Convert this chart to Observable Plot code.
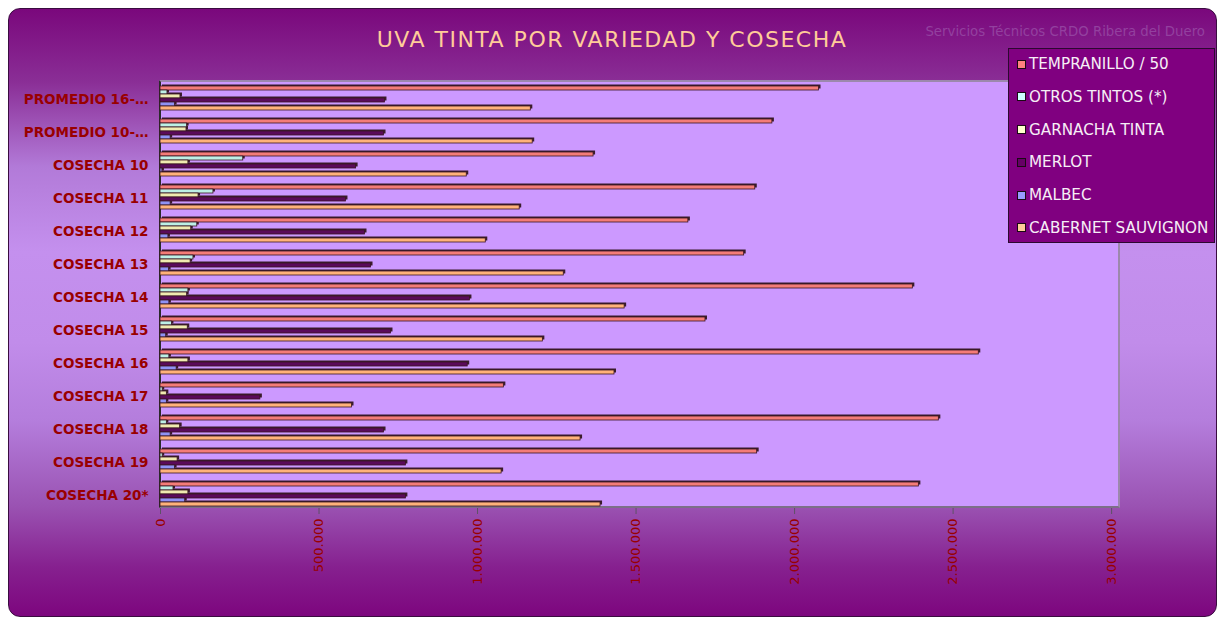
<!DOCTYPE html>
<html>
<head>
<meta charset="utf-8">
<script src="https://cdn.jsdelivr.net/npm/d3@7"></script>
<script src="https://cdn.jsdelivr.net/npm/@observablehq/plot@0.6"></script>
<style>
  html, body { margin: 0; padding: 0; background: #ffffff; width: 1221px; height: 619px; overflow: hidden; }
  #card {
    position: absolute; left: 8px; top: 8px; width: 1209px; height: 609px;
    box-sizing: border-box; border: 1px solid #3a0c40; border-radius: 12px;
    background: linear-gradient(to bottom, #7a087c 0%, #8a2e96 12%, #b27ad8 26%, #c490ee 40%, #c18cea 55%, #b47ddc 68%, #9a52b2 82%, #86208f 92%, #7d067e 100%);
    z-index: 0;
  }
  #plotbg {
    position: absolute; left: 159px; top: 80px; width: 961px; height: 428px;
    background: #cc99ff; box-sizing: border-box;
    border-top: 2px solid #9c88ad; border-right: 2px solid #9c88ad;
    border-left: 2px solid #2a2a2a; border-bottom: 2px solid #7d6f88;
    z-index: 1;
  }
  #chart { position: absolute; left: 0; top: 0; z-index: 2; }
  #title {
    position: absolute; left: 0; top: 27px; width: 1224px; text-align: center;
    font-family: "DejaVu Sans", sans-serif; font-size: 22px;
    color: #ffcc99; z-index: 3; letter-spacing: 1.5px;
  }
  #subtitle {
    position: absolute; right: 16px; top: 24px;
    font-family: "DejaVu Sans", sans-serif; font-size: 13.3px;
    color: #93409f; z-index: 3;
  }
  #legend {
    position: absolute; left: 1008px; top: 48px; width: 207px; height: 195px;
    box-sizing: border-box; background: #800080;
    border: 1px solid #2c0830; z-index: 3; padding-top: 0;
    font-family: "DejaVu Sans", sans-serif; font-size: 15.2px; color: #f6eef6;
  }
  .item { height: 32.8px; display: flex; align-items: center; padding-left: 8px; }
  .item:first-child { margin-top: -1.4px; }
  .sw { width: 7px; height: 7px; border: 1px solid #1a0a14; margin-right: 3px; flex: none; }
</style>
</head>
<body>
<div id="card"></div>
<div id="plotbg"></div>
<div id="title">UVA TINTA POR VARIEDAD Y COSECHA</div>
<div id="subtitle">Servicios Técnicos CRDO Ribera del Duero</div>
<div id="legend"></div>
<div id="chart"></div>
<script>
// ---- data ----
const categories = [
  "PROMEDIO 16-…", "PROMEDIO 10-…", "COSECHA 10", "COSECHA 11", "COSECHA 12",
  "COSECHA 13", "COSECHA 14", "COSECHA 15", "COSECHA 16", "COSECHA 17",
  "COSECHA 18", "COSECHA 19", "COSECHA 20*"
];
const series = ["TEMPRANILLO / 50", "OTROS TINTOS (*)", "GARNACHA TINTA", "MERLOT", "MALBEC", "CABERNET SAUVIGNON"];
const seriesColors = ["#f47c78", "#bdf0e6", "#f0eab0", "#5a0a5a", "#8f92f5", "#ffb27a"];
const legendColors = ["#ff8080", "#ccffff", "#ffffcc", "#660066", "#9999ff", "#ffcc99"];

const tempranillo50 = [2077000, 1930000, 1366000, 1876000, 1665000, 1841000, 2373000, 1719000, 2581000, 1083000, 2455000, 1882000, 2392000];
const otrosTintos   = [22000, 84000, 261000, 167000, 116000, 104000, 88000, 36000, 28000, 7000, 20000, 7000, 41000];
const garnachaTinta = [63000, 82000, 88000, 120000, 97000, 95000, 84000, 86000, 88000, 20000, 62000, 54000, 88000];
const merlot        = [708000, 705000, 617000, 585000, 645000, 664000, 976000, 727000, 969000, 315000, 705000, 774000, 774000];
const malbec        = [46000, 32000, 6000, 32000, 25000, 27000, 28000, 18000, 51000, 20000, 32000, 46000, 78000];
const cabernetSauvignon = [1168000, 1174000, 966000, 1133000, 1026000, 1272000, 1464000, 1206000, 1432000, 604000, 1325000, 1076000, 1388000];

const xTicks = [0, 500000, 1000000, 1500000, 2000000, 2500000, 3000000];

// ---- build table ----
const seriesValues = [tempranillo50, otrosTintos, garnachaTinta, merlot, malbec, cabernetSauvignon];
const rows = [];
categories.forEach((c, i) => series.forEach((s, j) => rows.push({category: c, series: s, value: seriesValues[j][i]})));

const fmt = d3.formatLocale({decimal: ",", thousands: ".", grouping: [3], currency: ["", " €"]}).format(",.0f");

const chart = Plot.plot({
  width: 1221,
  height: 619,
  marginLeft: 160,
  marginRight: 101,
  marginTop: 78,
  marginBottom: 105,
  style: {background: "transparent", fontFamily: "DejaVu Sans", overflow: "visible"},
  x: {domain: [0, 3028000], label: null},
  y: {domain: series, axis: null, padding: 0},
  fy: {domain: categories, paddingInner: 0.16, paddingOuter: 0.08, label: null},
  color: {domain: series, range: seriesColors},
  marks: [
    Plot.barX(rows, {x: "value", y: "series", fy: "category", fill: "#3a1c2c", dx: 2, dy: -1.5}),
    Plot.barX(rows, {x: "value", y: "series", fy: "category", fill: "series", stroke: "#3a1422", strokeWidth: 0.8}),
    Plot.axisX({ticks: xTicks, tickFormat: fmt, tickRotate: -90, tickSize: 6, tickPadding: 4, stroke: "#5e5266", fill: "#990000", fontSize: 13, label: null}),
    Plot.axisFy({anchor: "left", tickSize: 0, tickPadding: 12, dy: 1.5, fontSize: 13.5, fontWeight: "bold", fill: "#990000", label: null})
  ]
});
document.getElementById("chart").appendChild(chart);

// ---- legend ----
const legend = d3.select("#legend");
series.forEach((s, j) => {
  const it = legend.append("div").attr("class", "item");
  it.append("div").attr("class", "sw").style("background", legendColors[j]);
  it.append("span").text(s);
});
</script>
</body>
</html>
